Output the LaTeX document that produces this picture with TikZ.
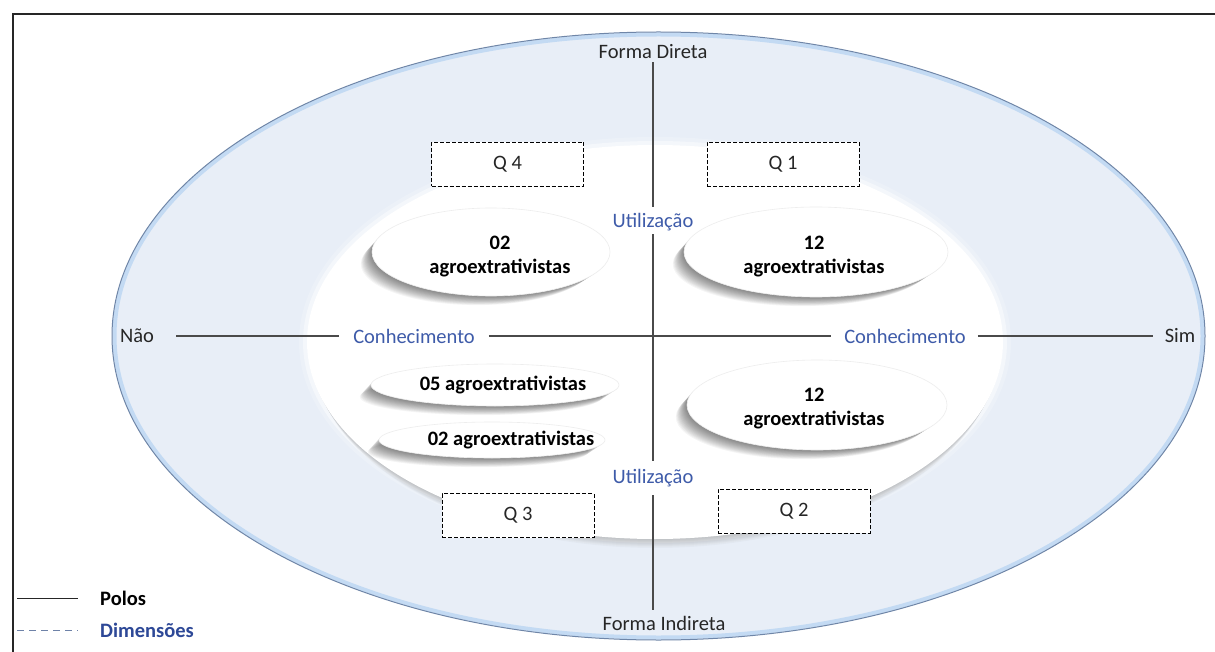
\documentclass[tikz,border=0pt]{standalone}
\usepackage{fontspec}
\setmainfont{Carlito}
\usetikzlibrary{shapes.geometric}
\definecolor{outerfill}{HTML}{E8EEF7}
\definecolor{outerline}{HTML}{6F86A8}
\definecolor{glow}{HTML}{C3DAF3}
\definecolor{dimblue}{HTML}{3E5BA9}
\definecolor{legblue}{HTML}{2D4897}
\definecolor{legdash}{HTML}{6E82A8}
\definecolor{axis}{HTML}{4A4A4A}
\definecolor{txt}{HTML}{262626}
% layered soft shadow below-left of an ellipse: centre x, centre y, x radius, y radius
\newcommand\mysoftshadow[4]{%
  \foreach \k in {1,...,14}
    \fill[black, opacity=0.04] ({#1-1.0*\k},{#2+0.85*\k}) ellipse [x radius={#3-0.2*\k}, y radius={#4-0.2*\k}];%
}
\begin{document}
\begin{tikzpicture}[x=1pt,y=-1pt,
  lbl/.style={font=\fontsize{20.5}{24}\selectfont, text=txt, inner sep=0pt},
  dim/.style={font=\fontsize{20.5}{24}\selectfont, text=dimblue, inner sep=0pt},
  num/.style={font=\fontsize{20.5}{24}\selectfont\bfseries, text=black, align=center, inner sep=0pt},
  qbox/.style={draw=black, dash pattern=on 4pt off 2pt, line width=0.8pt, fill=white, minimum width=152pt, minimum height=44pt, font=\fontsize{20.5}{24}\selectfont, text=txt, inner sep=0pt},
  blob/.style={ellipse, fill=white, draw=black!7, line width=0.6pt, inner sep=0pt},
  axisline/.style={draw=axis, line width=1.1pt},
]
\useasboundingbox (0,0) rectangle (1215,652);
\fill[white] (0,0) rectangle (1215,652);
\draw[line width=2.2pt, black!85] (12.7,652) -- (12.7,14) -- (1215,14);

% outer ellipse
\fill[outerfill] (658.5,336) ellipse [x radius=546.5pt, y radius=304pt];
\draw[glow, line width=4pt] (658.5,336) ellipse [x radius=544pt, y radius=301.5pt];
\draw[outerline, line width=1pt] (658.5,336) ellipse [x radius=546.5pt, y radius=304pt];

% inner white ellipse: soft halo, bottom shadow, body
\foreach \k/\o in {8/0.2, 4/0.45}
  \fill[white, opacity=\o] (655,342) ellipse [x radius={348+\k}, y radius={197+\k}];
\foreach \k in {1,...,9}
  \fill[black, opacity=0.025] (655,{342+\k}) ellipse [x radius={348-0.6*\k}, y radius=197];
\node[ellipse, fill=white, inner sep=0pt, minimum width=696pt, minimum height=394pt] (inner) at (655,342) {};

% labels of the axes
\node[lbl] (fd) at (653,52) {Forma Direta};
\node[lbl] (fi) at (664,623) {Forma Indireta};
\node[lbl] (nao) at (137,336) {Não};
\node[lbl] (sim) at (1180,336) {Sim};
\node[dim] (cl) at (414,336) {Conhecimento};
\node[dim] (cr) at (905,336) {Conhecimento};
\node[dim] (ut) at (653,222) {Utilização};
\node[dim] (ub) at (653,478) {Utilização};

% axes
\draw[axisline, shorten <=22pt, shorten >=14pt] (nao.east) -- (cl.west);
\draw[axisline, shorten <=14pt, shorten >=13pt] (cl.east) -- (cr.west);
\draw[axisline, shorten <=12pt, shorten >=12pt] (cr.east) -- (sim.west);
\draw[axisline, shorten <=3pt, shorten >=6pt] (fd.south) -- (ut.north);
\draw[axisline, shorten <=3pt, shorten >=8pt] (ut.south) -- (ub.north);
\draw[axisline, shorten <=8pt, shorten >=6pt] (ub.south) -- (ub.south |- fi.north);

% blobs with their shadows
\mysoftshadow{491}{252}{119}{44}
\node[blob, minimum width=238pt, minimum height=88pt] (e4) at (491,252) {};
\node[num] (t4) at (500,257) {02\\agroextrativistas};
\mysoftshadow{816}{252}{132}{45}
\node[blob, minimum width=264pt, minimum height=90pt] (e1) at (816,252) {};
\node[num] (t1) at (814,257) {12\\agroextrativistas};
\mysoftshadow{817}{405}{130}{45}
\node[blob, minimum width=260pt, minimum height=90pt] (e2) at (817,405) {};
\node[num] (t2) at (814,409) {12\\agroextrativistas};
\mysoftshadow{495}{385}{124}{21}
\node[blob, minimum width=248pt, minimum height=42pt] (e3a) at (495,385) {};
\node[num] (t3a) at (503,385) {05 agroextrativistas};
\mysoftshadow{492}{440}{113}{18}
\node[blob, minimum width=226pt, minimum height=36pt] (e3b) at (492,440) {};
\node[num] (t3b) at (511,440) {02 agroextrativistas};

% quadrant boxes
\node[qbox] (q4) at (507.5,164) {Q 4};
\node[qbox] (q1) at (783,164) {Q 1};
\node[qbox] (q3) at (518,515.5) {Q 3};
\node[qbox] (q2) at (794,511) {Q 2};

% legend
\coordinate (l1a) at (17,598);
\coordinate (l2a) at (17,630);
\node[font=\fontsize{20.5}{24}\selectfont\bfseries, text=black, anchor=west, inner sep=0pt] (polos) at (100,598) {Polos};
\node[font=\fontsize{20.5}{24}\selectfont\bfseries, text=legblue, anchor=west, inner sep=0pt] (dims) at (100,630) {Dimensões};
\draw[black!85, line width=1pt, shorten >=22pt] (l1a) -- (l1a -| polos.west);
\draw[legdash, line width=1pt, dash pattern=on 7pt off 5pt, shorten >=22pt] (l2a) -- (l2a -| dims.west);
\end{tikzpicture}
\end{document}
